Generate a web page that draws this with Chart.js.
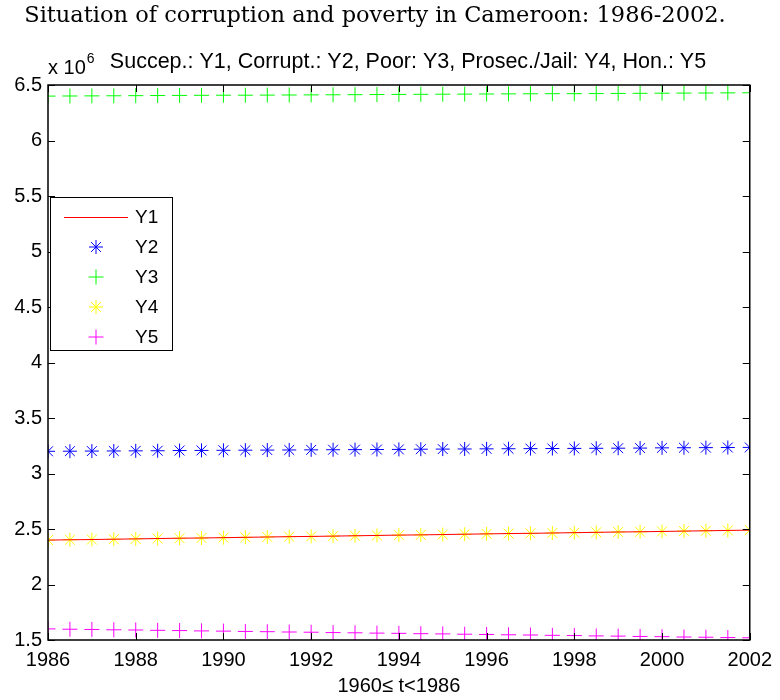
<!DOCTYPE html>
<html>
<head>
<meta charset="utf-8">
<script src="https://cdn.jsdelivr.net/npm/chart.js@4/dist/chart.umd.min.js"></script>
<style>
  html, body { margin: 0; padding: 0; background: #fff; }
  #wrap { width: 780px; height: 700px; }
</style>
</head>
<body>
<div id="wrap"><canvas id="cmChart" width="780" height="700"></canvas></div>
<script>
// years, every half year (x axis)
const years = [1986, 1986.5, 1987, 1987.5, 1988, 1988.5, 1989, 1989.5, 1990, 1990.5, 1991,
    1991.5, 1992, 1992.5, 1993, 1993.5, 1994, 1994.5, 1995, 1995.5, 1996, 1996.5, 1997,
    1997.5, 1998, 1998.5, 1999, 1999.5, 2000, 2000.5, 2001, 2001.5, 2002];

// values in units of 10^6
const succession = [2.400, 2.403, 2.405, 2.408, 2.411, 2.414, 2.417, 2.419, 2.422, 2.425, 2.428,
    2.431, 2.433, 2.436, 2.439, 2.442, 2.445, 2.447, 2.450, 2.453, 2.456, 2.459, 2.461,
    2.464, 2.467, 2.470, 2.473, 2.475, 2.478, 2.481, 2.484, 2.487, 2.490];
const corrupt = [3.200, 3.201, 3.202, 3.203, 3.204, 3.205, 3.207, 3.208, 3.209, 3.210, 3.211,
    3.212, 3.213, 3.214, 3.215, 3.216, 3.217, 3.219, 3.220, 3.221, 3.222, 3.223, 3.224,
    3.225, 3.226, 3.227, 3.228, 3.229, 3.231, 3.232, 3.233, 3.234, 3.235];
const poor = [6.400, 6.401, 6.402, 6.403, 6.404, 6.405, 6.406, 6.407, 6.408, 6.408, 6.409,
    6.410, 6.411, 6.412, 6.413, 6.414, 6.415, 6.416, 6.417, 6.418, 6.419, 6.420, 6.421,
    6.422, 6.422, 6.423, 6.424, 6.425, 6.426, 6.427, 6.428, 6.429, 6.430];
const prosecJail = [2.400, 2.403, 2.405, 2.408, 2.411, 2.414, 2.417, 2.419, 2.422, 2.425, 2.428,
    2.431, 2.433, 2.436, 2.439, 2.442, 2.445, 2.447, 2.450, 2.453, 2.456, 2.459, 2.461,
    2.464, 2.467, 2.470, 2.473, 2.475, 2.478, 2.481, 2.484, 2.487, 2.490];
const honest = [1.600, 1.597, 1.595, 1.592, 1.590, 1.587, 1.585, 1.582, 1.580, 1.577, 1.575,
    1.572, 1.570, 1.567, 1.565, 1.562, 1.560, 1.557, 1.555, 1.552, 1.550, 1.547, 1.545,
    1.542, 1.540, 1.537, 1.535, 1.532, 1.530, 1.527, 1.525, 1.522, 1.520];

const seriesNames = ['Y1', 'Y2', 'Y3', 'Y4', 'Y5'];
const xTicks = [1986, 1988, 1990, 1992, 1994, 1996, 1998, 2000, 2002];
const yTicks = [1.5, 2, 2.5, 3, 3.5, 4, 4.5, 5, 5.5, 6, 6.5];

const titleText = 'Situation of corruption and poverty in Cameroon: 1986-2002.';
const subtitleText = 'Succep.: Y1, Corrupt.: Y2, Poor: Y3, Prosec./Jail: Y4, Hon.: Y5';
const xLabel = '1960\u2264 t<1986';

const SANS = '"Liberation Sans", Arial, sans-serif';

function toPoints(vals) {
    return vals.map((v, i) => ({ x: years[i], y: v }));
}

// box, inward ticks, exponent, subtitle and in-axes legend (matlab look)
const matlabAxes = {
    id: 'matlabAxes',
    afterDraw(chart) {
        const ctx = chart.ctx;
        const a = chart.chartArea;
        const xs = chart.scales.x, ys = chart.scales.y;
        ctx.save();
        ctx.strokeStyle = '#000';
        ctx.lineWidth = 1;
        ctx.beginPath();
        xTicks.forEach(t => {
            const px = Math.round(xs.getPixelForValue(t)) + 0.5;
            ctx.moveTo(px, a.bottom); ctx.lineTo(px, a.bottom - 7);
            ctx.moveTo(px, a.top); ctx.lineTo(px, a.top + 7);
        });
        yTicks.forEach(t => {
            const py = Math.round(ys.getPixelForValue(t)) + 0.5;
            ctx.moveTo(a.left, py); ctx.lineTo(a.left + 7, py);
            ctx.moveTo(a.right, py); ctx.lineTo(a.right - 7, py);
        });
        ctx.stroke();
        ctx.lineWidth = 1.5;
        ctx.strokeRect(a.left, a.top, a.right - a.left, a.bottom - a.top);

        // x 10^6
        ctx.fillStyle = '#000';
        ctx.textBaseline = 'alphabetic';
        ctx.textAlign = 'left';
        ctx.font = '20px ' + SANS;
        ctx.fillText('x 10', a.left, a.top - 11);
        const w = ctx.measureText('x 10').width;
        ctx.font = '14px ' + SANS;
        ctx.fillText('6', a.left + w + 1, a.top - 22);

        // subtitle line
        ctx.font = '21.5px ' + SANS;
        ctx.textAlign = 'center';
        ctx.fillText(subtitleText, 408, a.top - 17);

        // legend
        const lx = a.left + 2, ly = a.top + 112, lw = 122, lh = 153;
        ctx.textAlign = 'left';
        ctx.fillStyle = '#fff';
        ctx.fillRect(lx, ly, lw, lh);
        ctx.lineWidth = 1;
        ctx.strokeStyle = '#000';
        ctx.strokeRect(lx + 0.5, ly + 0.5, lw, lh);
        chart.data.datasets.forEach((ds, i) => {
            const cy = ly + 20 + i * 30;
            ctx.strokeStyle = ds.borderColor;
            if (ds.showLine) {
                ctx.lineWidth = 1;
                ctx.beginPath();
                ctx.moveTo(lx + 14, cy + 0.5);
                ctx.lineTo(lx + 78, cy + 0.5);
                ctx.stroke();
            } else {
                Chart.helpers.drawPoint(ctx, {
                    pointStyle: ds.pointStyle, radius: ds.pointRadius,
                    borderWidth: 1, rotation: 0
                }, lx + 46, cy);
            }
            ctx.fillStyle = '#000';
            ctx.font = '19px ' + SANS;
            ctx.textBaseline = 'middle';
            ctx.fillText(ds.label, lx + 85, cy + 1);
        });
        ctx.restore();
    }
};

new Chart(document.getElementById('cmChart'), {
    type: 'line',
    data: {
        datasets: [
            { label: seriesNames[0], data: toPoints(succession), borderColor: '#ff0000',
              backgroundColor: '#ff0000', borderWidth: 1, showLine: true, pointRadius: 0, order: 1 },
            { label: seriesNames[1], data: toPoints(corrupt), borderColor: '#0000ff',
              showLine: false, pointStyle: 'star', pointRadius: 7, pointBorderWidth: 1, order: 2 },
            { label: seriesNames[2], data: toPoints(poor), borderColor: '#00ff00',
              showLine: false, pointStyle: 'cross', pointRadius: 7.5, pointBorderWidth: 1, order: 2 },
            { label: seriesNames[3], data: toPoints(prosecJail), borderColor: '#ffff00',
              showLine: false, pointStyle: 'star', pointRadius: 7, pointBorderWidth: 1, order: 2 },
            { label: seriesNames[4], data: toPoints(honest), borderColor: '#ff00ff',
              showLine: false, pointStyle: 'cross', pointRadius: 7.5, pointBorderWidth: 1, order: 2 }
        ]
    },
    options: {
        responsive: false,
        animation: false,
        layout: { padding: { left: 0, right: 30, top: 0, bottom: 0 } },
        plugins: {
            legend: { display: false },
            tooltip: { enabled: false },
            title: {
                display: true,
                text: titleText,
                color: '#000',
                font: { family: '"DejaVu Serif", "Liberation Serif", serif', size: 22.5, weight: 'normal' },
                padding: { top: 3, bottom: 55 }
            }
        },
        scales: {
            x: {
                type: 'linear',
                min: 1986,
                max: 2002,
                afterBuildTicks: s => { s.ticks = xTicks.map(v => ({ value: v })); },
                afterFit: s => { s.height = 60; },
                grid: { display: false, drawTicks: false },
                border: { display: false },
                ticks: { color: '#000', font: { family: SANS, size: 20 }, padding: 8,
                         maxRotation: 0, callback: v => String(v) },
                title: { display: true, text: xLabel, color: '#000',
                         font: { family: SANS, size: 20 }, padding: { top: 0, bottom: 2 } }
            },
            y: {
                min: 1.5,
                max: 6.5,
                afterBuildTicks: s => { s.ticks = yTicks.map(v => ({ value: v })); },
                afterFit: s => { s.width = 48; },
                grid: { display: false, drawTicks: false },
                border: { display: false },
                ticks: { color: '#000', font: { family: SANS, size: 20 }, padding: 6,
                         callback: v => String(v) }
            }
        }
    },
    plugins: [matlabAxes]
});
</script>
</body>
</html>
